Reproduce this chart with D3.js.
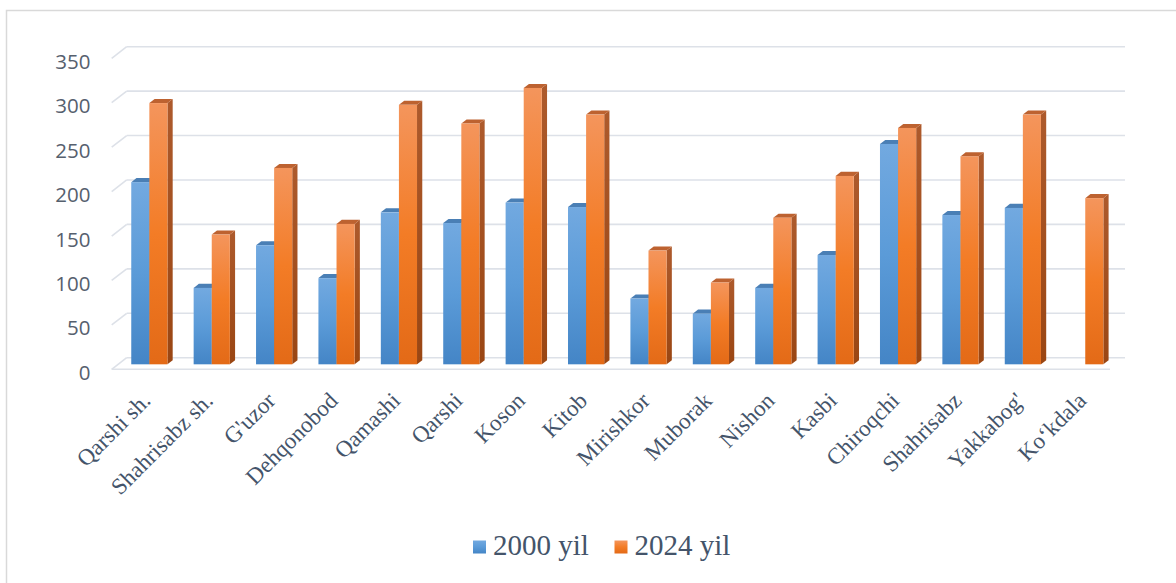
<!DOCTYPE html>
<html>
<head>
<meta charset="utf-8">
<script src="https://cdn.jsdelivr.net/npm/d3@7"></script>
<style>
  html, body { margin: 0; padding: 0; background: #fff; }
  svg { display: block; }
</style>
</head>
<body>
<div id="chart"></div>
<script>
const categories = ['Qarshi sh.', 'Shahrisabz sh.', "G'uzor", 'Dehqonobod', 'Qamashi', 'Qarshi',
  'Koson', 'Kitob', 'Mirishkor', 'Muborak', 'Nishon', 'Kasbi', 'Chiroqchi', 'Shahrisabz',
  "Yakkabog'", 'Ko\u2018kdala'];
const values2000 = [205, 86, 134, 97, 171, 159, 182, 177, 74, 57, 86, 123, 248, 168, 176, null];
const values2024 = [294, 146, 221, 158, 292, 271, 311, 281, 128, 92, 165, 212, 266, 234, 281, 187];
const seriesNames = ['2000 yil', '2024 yil'];
const yTicks = [0, 50, 100, 150, 200, 250, 300, 350];

const W = 1176, H = 583;
const svg = d3.select('#chart').append('svg').attr('width', W).attr('height', H);

// chart frame
svg.append('rect')
  .attr('x', 6.5).attr('y', 10.5).attr('width', W + 10).attr('height', H + 10)
  .attr('fill', 'none').attr('stroke', '#d9d9d9').attr('stroke-width', 1.5);

// 3D geometry: front plane of the floor, and offset to the back wall
const depth = { dx: 15, dy: -11.6 };
const x = d3.scaleBand().domain(categories).range([111.7, 1110]).paddingInner(0.42).paddingOuter(0.21);
const y = d3.scaleLinear().domain([0, 350]).range([369.3, 58.3]);  // front plane
const barDepth = 0.43;           // bar front face, as fraction of the depth
const sideDepth = 0.35;          // bar thickness in depth
const barW = x.bandwidth() / 2;

const defs = svg.append('defs');
function grad(id, stops) {
  const g = defs.append('linearGradient').attr('id', id)
    .attr('x1', 0).attr('y1', 0).attr('x2', 0).attr('y2', 1);
  stops.forEach(([o, c]) => g.append('stop').attr('offset', o).attr('stop-color', c));
}
grad('blueFront', [[0, '#72a9e0'], [0.5, '#5b9bd8'], [1, '#4485c6']]);
grad('orangeFront', [[0, '#f4955c'], [0.5, '#f37c26'], [1, '#e36a17']]);
grad('blueSide', [[0, '#4679ad'], [1, '#36679a']]);
grad('orangeSide', [[0, '#ad5a2c'], [1, '#9a4613']]);

const styles = [
  { front: 'url(#blueFront)', side: 'url(#blueSide)', top: '#4a7fb5' },
  { front: 'url(#orangeFront)', side: 'url(#orangeSide)', top: '#bd6230' }
];

// gridlines on back wall + left diagonals
const grid = svg.append('g').attr('stroke', '#dde1e8').attr('stroke-width', 1.6).attr('fill', 'none');
yTicks.forEach(t => {
  const yb = y(t) + depth.dy;
  grid.append('line')
    .attr('x1', 111.7 + depth.dx).attr('x2', 1110 + depth.dx)
    .attr('y1', yb).attr('y2', yb);
  grid.append('line')
    .attr('x1', 111.7).attr('y1', y(t))
    .attr('x2', 111.7 + depth.dx).attr('y2', yb);
});
// floor front edge
grid.append('line').attr('x1', 111.7).attr('x2', 1110).attr('y1', y(0)).attr('y2', y(0));

// y tick labels
svg.append('g').selectAll('text').data(yTicks).join('text')
  .attr('x', 90.5).attr('y', d => y(d) + 2.5)
  .attr('text-anchor', 'end').attr('dominant-baseline', 'central')
  .attr('font-family', 'Open Sans, Noto Sans, sans-serif').attr('font-size', 20.5)
  .attr('fill', '#56606e')
  .text(d => d);

// bars
const bars = [];
categories.forEach((c, i) => {
  [values2000[i], values2024[i]].forEach((v, s) => {
    if (v == null) return;
    bars.push({ c, v, s });
  });
});

const ox = depth.dx * barDepth, oy = depth.dy * barDepth;
const sx = depth.dx * sideDepth, sy = depth.dy * sideDepth;

const barG = svg.append('g').selectAll('g').data(bars).join('g')
  .attr('transform', d => `translate(${x(d.c) + d.s * barW + ox},${oy})`);

barG.append('path')
  .attr('fill', d => styles[d.s].side)
  .attr('d', d => `M${barW},${y(d.v)} l${sx},${sy} L${barW + sx},${y(0) + sy} L${barW},${y(0)} Z`);

barG.append('path')
  .attr('fill', d => styles[d.s].top)
  .attr('d', d => `M0,${y(d.v)} l${sx},${sy} h${barW} l${-sx},${-sy} Z`);

barG.append('rect')
  .attr('x', 0).attr('y', d => y(d.v))
  .attr('width', barW).attr('height', d => y(0) - y(d.v))
  .attr('fill', d => styles[d.s].front);

// category labels
svg.append('g').selectAll('text').data(categories).join('text')
  .attr('transform', d => `translate(${x(d) + x.bandwidth() / 2 + 9},402) rotate(-45)`)
  .attr('text-anchor', 'end')
  .attr('font-family', 'Liberation Serif, Times New Roman, serif').attr('font-size', 23)
  .attr('fill', '#44546a')
  .text(d => d);

// legend
const legendX = [473, 614.5];
const legend = svg.append('g').selectAll('g').data(seriesNames).join('g')
  .attr('transform', (d, i) => `translate(${legendX[i]},0)`);
legend.append('rect')
  .attr('x', 0).attr('y', 540.5).attr('width', 13).attr('height', 13)
  .attr('fill', (d, i) => i === 0 ? 'url(#blueFront)' : 'url(#orangeFront)');
legend.append('text')
  .attr('x', 20).attr('y', 555)
  .attr('font-family', 'Liberation Serif, Times New Roman, serif').attr('font-size', 29)
  .attr('fill', '#44546a')
  .text(d => d);
</script>
</body>
</html>
